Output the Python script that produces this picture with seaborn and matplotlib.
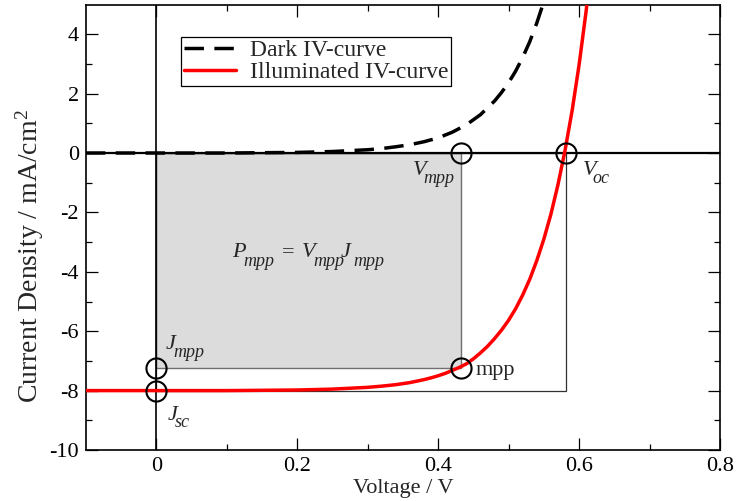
import matplotlib
matplotlib.use("Agg")
import matplotlib.pyplot as plt
import matplotlib.patches as mpatches
import pandas as pd
import seaborn as sns

# Dark IV-curve (voltage in V, current density in mA/cm^2)
dark_v = [-0.10, 0.00, 0.10, 0.15, 0.20, 0.25, 0.30, 0.32, 0.34, 0.36, 0.38,
          0.40, 0.42, 0.44, 0.46, 0.48, 0.49, 0.50, 0.51, 0.52, 0.53, 0.54,
          0.55, 0.56]
dark_j = [0.00, 0.00, 0.00, 0.01, 0.02, 0.05, 0.11, 0.15, 0.21, 0.28, 0.38,
          0.51, 0.70, 0.95, 1.29, 1.75, 2.04, 2.37, 2.76, 3.22, 3.75, 4.38,
          5.10, 5.94]

# Illuminated IV-curve
illum_v = [-0.10, 0.00, 0.10, 0.20, 0.25, 0.30, 0.32, 0.34, 0.36, 0.38, 0.39,
           0.40, 0.41, 0.42, 0.43, 0.44, 0.45, 0.46, 0.47, 0.48, 0.49, 0.50,
           0.51, 0.52, 0.53, 0.54, 0.55, 0.56, 0.57, 0.58, 0.59, 0.60, 0.61,
           0.62]
illum_j = [-8.00, -8.00, -8.00, -7.98, -7.95, -7.89, -7.85, -7.80, -7.73,
           -7.63, -7.57, -7.50, -7.42, -7.32, -7.22, -7.10, -6.93, -6.73,
           -6.51, -6.25, -5.96, -5.63, -5.24, -4.78, -4.25, -3.62, -2.90,
           -2.06, -1.07, 0.08, 1.41, 2.97, 4.78, 6.90]

# Characteristic points
v_mpp, j_mpp = 0.433, -7.23
v_oc, j_sc = 0.582, -8.00

x_ticks = [0.0, 0.2, 0.4, 0.6, 0.8]
x_tick_labels = ["0", "0.2", "0.4", "0.6", "0.8"]
y_ticks = [-10, -8, -6, -4, -2, 0, 2, 4]
y_tick_labels = ["-10", "-8", "-6", "-4", "-2", "0", "2", "4"]

sns.set_style("ticks")
plt.rcParams["font.family"] = ["Liberation Serif", "DejaVu Serif"]
plt.rcParams["mathtext.fontset"] = "custom"
plt.rcParams["mathtext.rm"] = "Liberation Serif"
plt.rcParams["mathtext.it"] = "Liberation Serif:italic"
plt.rcParams["axes.unicode_minus"] = False

fig = plt.figure(figsize=(7.36, 5.01), dpi=100)
ax = fig.add_axes([0.1166, 0.1018, 0.8617, 0.8892])

# Power rectangle at the maximum power point
ax.add_patch(mpatches.Rectangle((0, j_mpp), v_mpp, -j_mpp, facecolor="#dcdcdc",
                                edgecolor="#707070", linewidth=1.0, zorder=1))
# Voc x Jsc rectangle
ax.add_patch(mpatches.Rectangle((0, j_sc), v_oc, -j_sc, facecolor="none",
                                edgecolor="#303030", linewidth=0.9, zorder=1.5))

# Coordinate axes through the origin
ax.axhline(0, color="black", linewidth=1.6, zorder=2)
ax.axvline(0, color="black", linewidth=1.2, zorder=2)

dark_df = pd.DataFrame({"V": dark_v, "J": dark_j})
illum_df = pd.DataFrame({"V": illum_v, "J": illum_j})

sns.lineplot(data=dark_df, x="V", y="J", ax=ax, color="black", linewidth=2.5,
             sort=False, label="Dark IV-curve", zorder=3)
ax.lines[-1].set_dashes((5.6, 3.0))
sns.lineplot(data=illum_df, x="V", y="J", ax=ax, color="#ff0000", linewidth=2.5,
             sort=False, label="Illuminated IV-curve", zorder=3)

# Open circles at the characteristic points
cx = [v_mpp, v_oc, 0.0, v_mpp, 0.0]
cy = [0.0, 0.0, j_mpp, j_mpp, j_sc]
ax.plot(cx, cy, linestyle="none", marker="o", markersize=14.5,
        markerfacecolor="none", markeredgecolor="black", markeredgewidth=1.5,
        zorder=4)

fs = 16
sub_fs = 13


def symbol(x, y, main, sub, sub_dx, sub_dy):
    """Italic symbol with a dropped italic subscript."""
    ax.text(x, y, main, fontsize=fs, style="italic", ha="left", va="baseline",
            zorder=5)
    ax.text(x + sub_dx, y + sub_dy, sub, fontsize=sub_fs, style="italic",
            ha="left", va="baseline", zorder=5)


symbol(0.3645, -0.73, "V", "mpp", 0.0142, -0.29)
symbol(0.6053, -0.73, "V", "oc", 0.0142, -0.29)
symbol(0.0138, -6.59, "J", "mpp", 0.0099, -0.29)
symbol(0.0166, -8.99, "J", "sc", 0.0099, -0.23)
symbol(0.1074, -3.50, "P", "mpp", 0.0156, -0.32)
ax.text(0.1875, -3.50, "=", fontsize=fs, ha="center", va="baseline")
symbol(0.2067, -3.50, "V", "mpp", 0.0156, -0.32)
symbol(0.2620, -3.50, "J", "mpp", 0.0170, -0.32)
ax.text(0.4535, -7.47, "mpp", fontsize=fs, ha="left", va="baseline")

ax.set_xlim(-0.1, 0.8)
ax.set_ylim(-10, 5)
ax.set_xticks(x_ticks)
ax.set_xticklabels(x_tick_labels)
ax.set_xticks([0.1, 0.3, 0.5, 0.7], minor=True)
ax.set_yticks(y_ticks)
ax.set_yticklabels(y_tick_labels)
ax.set_yticks([-9, -7, -5, -3, -1, 1, 3], minor=True)

ax.tick_params(which="both", direction="in", top=True, right=True,
               labelsize=fs, width=0.9, colors="black")
ax.tick_params(which="major", length=8.5, pad=5)
ax.tick_params(which="minor", length=4.3)
for s in ax.spines.values():
    s.set_linewidth(1.2)
    s.set_color("black")

ax.set_xlabel("Voltage / V", fontsize=fs, labelpad=2)
ax.set_ylabel(r"Current Density / mA/cm$^2$", fontsize=20)
ax.yaxis.set_label_coords(-0.062, 0.435)

leg = ax.legend(loc="upper left", bbox_to_anchor=(0.150, 0.927), fontsize=17,
                frameon=True, fancybox=False, edgecolor="black", framealpha=1,
                borderpad=0.12, labelspacing=0.0, handlelength=2.2,
                handletextpad=0.6, borderaxespad=0)
leg.get_frame().set_linewidth(0.9)

fig.savefig("out.png", dpi=100)
